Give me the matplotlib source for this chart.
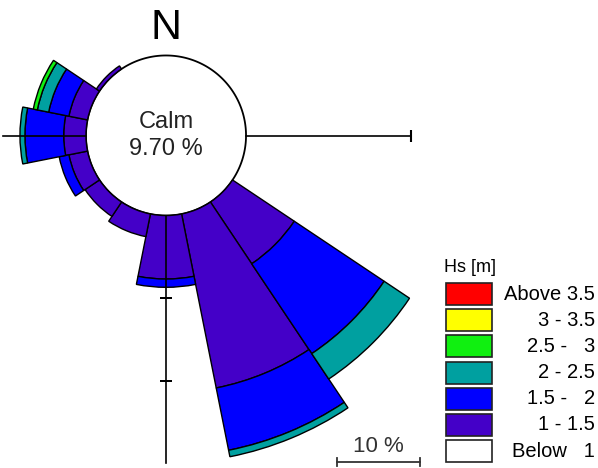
import matplotlib
matplotlib.use('Agg')
import matplotlib.pyplot as plt
import numpy as np
from matplotlib.patches import Rectangle
from matplotlib.lines import Line2D

plt.rcParams['font.family'] = ['Liberation Sans', 'DejaVu Sans']

# wave rose data, percent of time per 22.5 deg sector (N clockwise)
directions = ['N', 'NNE', 'NE', 'ENE', 'E', 'ESE', 'SE', 'SSE',
              'S', 'SSW', 'SW', 'WSW', 'W', 'WNW', 'NW', 'NNW']
calm_pct = 9.70
hs_1_15 = [0, 0, 0, 0, 0, 0, 9.0, 21.5, 7.7, 2.8, 2.1, 2.3, 2.7, 2.3, 0.45, 0]
hs_15_2 = [0, 0, 0, 0, 0, 0, 13.1, 7.7, 1.0, 0, 0, 1.2, 4.7, 2.5, 0, 0]
hs_2_25 = [0, 0, 0, 0, 0, 0, 3.7, 0.8, 0, 0, 0, 0, 0.6, 1.4, 0, 0]
hs_25_3 = [0, 0, 0, 0, 0, 0, 0, 0, 0, 0, 0, 0, 0, 0.5, 0, 0]
hs_3_35 = [0] * 16
hs_above = [0] * 16

class_labels = ['Above 3.5', '3 - 3.5', '2.5 -   3', '2 - 2.5',
                '1.5 -   2', '1 - 1.5', 'Below   1']
class_colors = ['#FF0000', '#FFFF00', '#10F010', '#00A0A0',
                '#0000FF', '#4400C8', '#FFFFFF']

W, H = 598, 468
fig = plt.figure(figsize=(W / 100, H / 100), dpi=100)

# polar axes placed so the rose centre sits at (166, 135.5) px from top-left
cx, cy = 166, 135.5
k = 8.25          # px per percent
rmax = 41
half = rmax * k
ax = fig.add_axes([(cx - half) / W, (H - cy - half) / H, 2 * half / W, 2 * half / H],
                  projection='polar')
ax.set_theta_zero_location('N')
ax.set_theta_direction(-1)
ax.set_ylim(0, rmax)
ax.set_axis_off()

theta = np.deg2rad(np.arange(16) * 22.5)
width = np.deg2rad(22.5)

# calm circle
t = np.linspace(0, 2 * np.pi, 361)
ax.fill(t, np.full_like(t, calm_pct), facecolor='white', edgecolor='black',
        lw=1.3, zorder=1)

bottom = np.full(16, calm_pct)
series = [hs_1_15, hs_15_2, hs_2_25, hs_25_3, hs_3_35, hs_above]
colors = class_colors[::-1][1:]
for vals, col in zip(series, colors):
    vals = np.array(vals, dtype=float)
    m = vals > 0
    ax.bar(theta[m], vals[m], width=width, bottom=bottom[m], color=col,
           edgecolor='black', lw=1.0, zorder=2)
    bottom = bottom + vals

# axis lines with 10 % ticks
ax.plot([np.pi / 2, np.pi / 2], [calm_pct, calm_pct + 20], color='black', lw=1.2, zorder=3)
ax.plot([np.pi / 2], [calm_pct + 20], marker='|', ms=9, mew=1.5, color='black', zorder=3)
ax.plot([3 * np.pi / 2, 3 * np.pi / 2], [calm_pct, calm_pct + 10], color='black', lw=1.2, zorder=3)
ax.plot([np.pi, np.pi], [calm_pct, calm_pct + 30], color='black', lw=1.2, zorder=3)
ax.plot([np.pi, np.pi], [calm_pct + 10, calm_pct + 20], ls='none', marker='_', ms=8,
        mew=1.2, color='black', zorder=3)

ax.text(0, 0, 'Calm\n%.2f %%' % calm_pct, ha='center', va='center',
        fontsize=17, linespacing=1.25, color='#222222', zorder=4)

fig.text(cx / W, 1 - 28 / H, 'N', ha='center', va='center', fontsize=31)

# scale bar
x0, x1, yb = 337, 337 + 10 * k, 462
fig.add_artist(Line2D([x0 / W, x1 / W], [1 - yb / H] * 2, color='#333333', lw=1.3))
for xe in (x0, x1):
    fig.add_artist(Line2D([xe / W] * 2, [1 - (yb - 4) / H, 1 - (yb + 4) / H],
                          color='#333333', lw=1.3))
fig.text((x0 + x1) / 2 / W, 1 - 447 / H, '10 %', ha='center', va='center',
         fontsize=16, color='#333333')

# legend
fig.text(444 / W, 1 - 267 / H, 'Hs [m]', ha='left', va='center', fontsize=13)
for i, (lab, col) in enumerate(zip(class_labels, class_colors)):
    top = 283 + i * 26.2
    fig.add_artist(Rectangle((446 / W, 1 - (top + 22) / H), 46 / W, 22 / H,
                             transform=fig.transFigure, facecolor=col,
                             edgecolor='#222222', lw=1.2))
    fig.text(595 / W, 1 - (top + 11) / H, lab, ha='right', va='center', fontsize=14.5)

fig.savefig('out.png', dpi=100)
